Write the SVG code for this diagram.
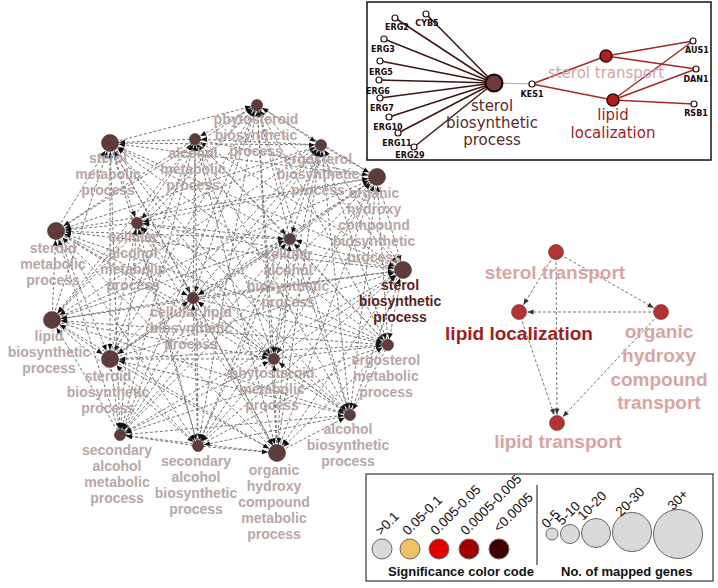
<svg xmlns="http://www.w3.org/2000/svg" width="718" height="588" viewBox="0 0 718 588">
<style>
.e line{stroke:#6f6f6f;stroke-width:0.95;stroke-dasharray:3 2;fill:none}
.s{marker-end:url(#ms)}
.b{marker-end:url(#mb)}
.r{marker-end:url(#mr)}
.n circle{fill:#5f3c3c;stroke:#4a2a2a;stroke-width:0.6}
.n text{font-family:"Liberation Sans",Arial,sans-serif;font-weight:bold;font-size:14px;fill:#b4a0a0;text-anchor:middle;opacity:0.92}
.n text.dk{fill:#5a1e1e;opacity:1}
.rn circle{fill:#b03434;stroke:#8a2222;stroke-width:0.6}
.rn text{font-family:"Liberation Sans",Arial,sans-serif;font-weight:bold;font-size:19px;fill:#d8a4a4;text-anchor:middle}
.rn text.dr{fill:#a11d1d}
.g circle{fill:#fff;stroke:#2a1010;stroke-width:1.2}
.g text{font-family:"DejaVu Sans",Verdana,sans-serif;font-weight:bold;font-size:8px;fill:#1a0a0a;text-anchor:middle}
.il{font-family:"DejaVu Sans",Verdana,sans-serif;font-size:15px;text-anchor:middle}
.lg{font-family:"Liberation Sans",Arial,sans-serif;font-size:13.5px;fill:#111}
.lb{font-family:"Liberation Sans",Arial,sans-serif;font-size:13px;font-weight:bold;fill:#111}
.lc{stroke:#666;stroke-width:1}
</style>
<defs>
<marker id="ms" markerUnits="userSpaceOnUse" markerWidth="7" markerHeight="6" refX="12" refY="2.5" orient="auto" overflow="visible"><path d="M0,0L6,2.5L0,5z" fill="#111"/></marker>
<marker id="mb" markerUnits="userSpaceOnUse" markerWidth="7" markerHeight="6" refX="15" refY="2.5" orient="auto" overflow="visible"><path d="M0,0L6,2.5L0,5z" fill="#111"/></marker>
<marker id="mr" markerUnits="userSpaceOnUse" markerWidth="7" markerHeight="6" refX="14.5" refY="2.5" orient="auto" overflow="visible"><path d="M0,0L6,2.5L0,5z" fill="#333"/></marker>
</defs>
<rect width="718" height="588" fill="#fff"/>

<g id="edges" class="e">
<line x1="257" y1="105" x2="195" y2="139" class="s"/>
<line x1="110" y1="143" x2="257" y2="105" class="s"/>
<line x1="257" y1="105" x2="321" y2="145" class="s"/>
<line x1="377" y1="177" x2="257" y2="105" class="s"/>
<line x1="257" y1="105" x2="403" y2="270" class="b"/>
<line x1="290" y1="239" x2="257" y2="105" class="s"/>
<line x1="257" y1="105" x2="137" y2="223" class="s"/>
<line x1="56" y1="231" x2="257" y2="105" class="s"/>
<line x1="257" y1="105" x2="193" y2="298" class="s"/>
<line x1="52" y1="320" x2="257" y2="105" class="s"/>
<line x1="257" y1="105" x2="110" y2="359" class="b"/>
<line x1="120" y1="435" x2="257" y2="105" class="s"/>
<line x1="257" y1="105" x2="198" y2="446" class="s"/>
<line x1="277" y1="453" x2="257" y2="105" class="s"/>
<line x1="257" y1="105" x2="274" y2="359" class="s"/>
<line x1="388" y1="345" x2="257" y2="105" class="s"/>
<line x1="257" y1="105" x2="350" y2="415" class="s"/>
<line x1="195" y1="139" x2="110" y2="143" class="b"/>
<line x1="321" y1="145" x2="195" y2="139" class="s"/>
<line x1="195" y1="139" x2="377" y2="177" class="b"/>
<line x1="403" y1="270" x2="195" y2="139" class="s"/>
<line x1="195" y1="139" x2="290" y2="239" class="s"/>
<line x1="137" y1="223" x2="195" y2="139" class="s"/>
<line x1="195" y1="139" x2="56" y2="231" class="b"/>
<line x1="193" y1="298" x2="195" y2="139" class="s"/>
<line x1="195" y1="139" x2="52" y2="320" class="b"/>
<line x1="110" y1="359" x2="195" y2="139" class="s"/>
<line x1="195" y1="139" x2="120" y2="435" class="s"/>
<line x1="198" y1="446" x2="195" y2="139" class="s"/>
<line x1="195" y1="139" x2="277" y2="453" class="b"/>
<line x1="274" y1="359" x2="195" y2="139" class="s"/>
<line x1="195" y1="139" x2="388" y2="345" class="s"/>
<line x1="350" y1="415" x2="195" y2="139" class="s"/>
<line x1="110" y1="143" x2="321" y2="145" class="s"/>
<line x1="377" y1="177" x2="110" y2="143" class="b"/>
<line x1="110" y1="143" x2="403" y2="270" class="b"/>
<line x1="290" y1="239" x2="110" y2="143" class="b"/>
<line x1="110" y1="143" x2="137" y2="223" class="s"/>
<line x1="56" y1="231" x2="110" y2="143" class="b"/>
<line x1="110" y1="143" x2="193" y2="298" class="s"/>
<line x1="52" y1="320" x2="110" y2="143" class="b"/>
<line x1="110" y1="143" x2="110" y2="359" class="b"/>
<line x1="120" y1="435" x2="110" y2="143" class="b"/>
<line x1="110" y1="143" x2="198" y2="446" class="s"/>
<line x1="277" y1="453" x2="110" y2="143" class="b"/>
<line x1="110" y1="143" x2="274" y2="359" class="s"/>
<line x1="388" y1="345" x2="110" y2="143" class="b"/>
<line x1="110" y1="143" x2="350" y2="415" class="s"/>
<line x1="321" y1="145" x2="377" y2="177" class="b"/>
<line x1="403" y1="270" x2="321" y2="145" class="s"/>
<line x1="321" y1="145" x2="290" y2="239" class="s"/>
<line x1="137" y1="223" x2="321" y2="145" class="s"/>
<line x1="321" y1="145" x2="56" y2="231" class="b"/>
<line x1="193" y1="298" x2="321" y2="145" class="s"/>
<line x1="321" y1="145" x2="52" y2="320" class="b"/>
<line x1="110" y1="359" x2="321" y2="145" class="s"/>
<line x1="321" y1="145" x2="120" y2="435" class="s"/>
<line x1="198" y1="446" x2="321" y2="145" class="s"/>
<line x1="321" y1="145" x2="277" y2="453" class="b"/>
<line x1="274" y1="359" x2="321" y2="145" class="s"/>
<line x1="321" y1="145" x2="388" y2="345" class="s"/>
<line x1="350" y1="415" x2="321" y2="145" class="s"/>
<line x1="377" y1="177" x2="403" y2="270" class="b"/>
<line x1="290" y1="239" x2="377" y2="177" class="b"/>
<line x1="377" y1="177" x2="137" y2="223" class="s"/>
<line x1="56" y1="231" x2="377" y2="177" class="b"/>
<line x1="377" y1="177" x2="193" y2="298" class="s"/>
<line x1="52" y1="320" x2="377" y2="177" class="b"/>
<line x1="377" y1="177" x2="110" y2="359" class="b"/>
<line x1="120" y1="435" x2="377" y2="177" class="b"/>
<line x1="377" y1="177" x2="198" y2="446" class="s"/>
<line x1="277" y1="453" x2="377" y2="177" class="b"/>
<line x1="377" y1="177" x2="274" y2="359" class="s"/>
<line x1="388" y1="345" x2="377" y2="177" class="b"/>
<line x1="377" y1="177" x2="350" y2="415" class="s"/>
<line x1="403" y1="270" x2="290" y2="239" class="s"/>
<line x1="137" y1="223" x2="403" y2="270" class="b"/>
<line x1="403" y1="270" x2="56" y2="231" class="b"/>
<line x1="193" y1="298" x2="403" y2="270" class="b"/>
<line x1="403" y1="270" x2="52" y2="320" class="b"/>
<line x1="110" y1="359" x2="403" y2="270" class="b"/>
<line x1="403" y1="270" x2="120" y2="435" class="s"/>
<line x1="198" y1="446" x2="403" y2="270" class="b"/>
<line x1="403" y1="270" x2="277" y2="453" class="b"/>
<line x1="274" y1="359" x2="403" y2="270" class="b"/>
<line x1="403" y1="270" x2="388" y2="345" class="s"/>
<line x1="350" y1="415" x2="403" y2="270" class="b"/>
<line x1="290" y1="239" x2="137" y2="223" class="s"/>
<line x1="56" y1="231" x2="290" y2="239" class="s"/>
<line x1="290" y1="239" x2="193" y2="298" class="s"/>
<line x1="52" y1="320" x2="290" y2="239" class="s"/>
<line x1="290" y1="239" x2="110" y2="359" class="b"/>
<line x1="120" y1="435" x2="290" y2="239" class="s"/>
<line x1="290" y1="239" x2="198" y2="446" class="s"/>
<line x1="277" y1="453" x2="290" y2="239" class="s"/>
<line x1="290" y1="239" x2="274" y2="359" class="s"/>
<line x1="388" y1="345" x2="290" y2="239" class="s"/>
<line x1="290" y1="239" x2="350" y2="415" class="s"/>
<line x1="137" y1="223" x2="56" y2="231" class="b"/>
<line x1="193" y1="298" x2="137" y2="223" class="s"/>
<line x1="137" y1="223" x2="52" y2="320" class="b"/>
<line x1="110" y1="359" x2="137" y2="223" class="s"/>
<line x1="137" y1="223" x2="120" y2="435" class="s"/>
<line x1="198" y1="446" x2="137" y2="223" class="s"/>
<line x1="137" y1="223" x2="277" y2="453" class="b"/>
<line x1="274" y1="359" x2="137" y2="223" class="s"/>
<line x1="137" y1="223" x2="388" y2="345" class="s"/>
<line x1="350" y1="415" x2="137" y2="223" class="s"/>
<line x1="56" y1="231" x2="193" y2="298" class="s"/>
<line x1="52" y1="320" x2="56" y2="231" class="b"/>
<line x1="56" y1="231" x2="110" y2="359" class="b"/>
<line x1="120" y1="435" x2="56" y2="231" class="b"/>
<line x1="56" y1="231" x2="198" y2="446" class="s"/>
<line x1="277" y1="453" x2="56" y2="231" class="b"/>
<line x1="56" y1="231" x2="274" y2="359" class="s"/>
<line x1="388" y1="345" x2="56" y2="231" class="b"/>
<line x1="56" y1="231" x2="350" y2="415" class="s"/>
<line x1="193" y1="298" x2="52" y2="320" class="b"/>
<line x1="110" y1="359" x2="193" y2="298" class="s"/>
<line x1="193" y1="298" x2="120" y2="435" class="s"/>
<line x1="198" y1="446" x2="193" y2="298" class="s"/>
<line x1="193" y1="298" x2="277" y2="453" class="b"/>
<line x1="274" y1="359" x2="193" y2="298" class="s"/>
<line x1="193" y1="298" x2="388" y2="345" class="s"/>
<line x1="350" y1="415" x2="193" y2="298" class="s"/>
<line x1="52" y1="320" x2="110" y2="359" class="b"/>
<line x1="120" y1="435" x2="52" y2="320" class="b"/>
<line x1="52" y1="320" x2="198" y2="446" class="s"/>
<line x1="277" y1="453" x2="52" y2="320" class="b"/>
<line x1="52" y1="320" x2="274" y2="359" class="s"/>
<line x1="388" y1="345" x2="52" y2="320" class="b"/>
<line x1="52" y1="320" x2="350" y2="415" class="s"/>
<line x1="110" y1="359" x2="120" y2="435" class="s"/>
<line x1="198" y1="446" x2="110" y2="359" class="b"/>
<line x1="110" y1="359" x2="277" y2="453" class="b"/>
<line x1="274" y1="359" x2="110" y2="359" class="b"/>
<line x1="110" y1="359" x2="388" y2="345" class="s"/>
<line x1="350" y1="415" x2="110" y2="359" class="b"/>
<line x1="198" y1="446" x2="120" y2="435" class="s"/>
<line x1="277" y1="453" x2="120" y2="435" class="s"/>
<line x1="120" y1="435" x2="274" y2="359" class="s"/>
<line x1="388" y1="345" x2="120" y2="435" class="s"/>
<line x1="120" y1="435" x2="350" y2="415" class="s"/>
<line x1="198" y1="446" x2="277" y2="453" class="b"/>
<line x1="274" y1="359" x2="198" y2="446" class="s"/>
<line x1="198" y1="446" x2="388" y2="345" class="s"/>
<line x1="350" y1="415" x2="198" y2="446" class="s"/>
<line x1="277" y1="453" x2="274" y2="359" class="s"/>
<line x1="388" y1="345" x2="277" y2="453" class="b"/>
<line x1="277" y1="453" x2="350" y2="415" class="s"/>
<line x1="274" y1="359" x2="388" y2="345" class="s"/>
<line x1="350" y1="415" x2="274" y2="359" class="s"/>
<line x1="388" y1="345" x2="350" y2="415" class="s"/>
<line x1="556" y1="252" x2="519" y2="312" class="r"/>
<line x1="556" y1="252" x2="661" y2="312" class="r"/>
<line x1="661" y1="312" x2="519" y2="312" class="r"/>
<line x1="556" y1="252" x2="557" y2="423" class="r"/>
<line x1="519" y1="312" x2="557" y2="423" class="r"/>
<line x1="661" y1="312" x2="557" y2="423" class="r"/>
</g>

<g id="n-phytosteroid-biosynthetic" class="n"><circle cx="257" cy="105" r="5.5"/><text><tspan x="256" y="124">phytosteroid</tspan><tspan x="256" y="140">biosynthetic</tspan><tspan x="256" y="156">process</tspan></text></g>
<g id="n-alcohol-metabolic" class="n"><circle cx="195" cy="139" r="5.5"/><text><tspan x="193" y="158">alcohol</tspan><tspan x="193" y="174">metabolic</tspan><tspan x="193" y="190">process</tspan></text></g>
<g id="n-sterol-metabolic" class="n"><circle cx="110" cy="143" r="8.5"/><text><tspan x="108" y="163">sterol</tspan><tspan x="108" y="179">metabolic</tspan><tspan x="108" y="195">process</tspan></text></g>
<g id="n-ergosterol-biosynthetic" class="n"><circle cx="321" cy="145" r="5.5"/><text><tspan x="318" y="164">ergosterol</tspan><tspan x="318" y="179">biosynthetic</tspan><tspan x="318" y="195">process</tspan></text></g>
<g id="n-ohc-biosynthetic" class="n"><circle cx="377" cy="177" r="8.5"/><text><tspan x="374" y="198">organic</tspan><tspan x="374" y="214">hydroxy</tspan><tspan x="374" y="230">compound</tspan><tspan x="374" y="246">biosynthetic</tspan><tspan x="374" y="262">process</tspan></text></g>
<g id="n-sterol-biosynthetic" class="n"><circle cx="403" cy="270" r="8.5"/><text class="dk"><tspan x="400" y="290">sterol</tspan><tspan x="400" y="306">biosynthetic</tspan><tspan x="400" y="322">process</tspan></text></g>
<g id="n-cellular-alcohol-biosynthetic" class="n"><circle cx="290" cy="239" r="5.5"/><text><tspan x="288" y="259">cellular</tspan><tspan x="288" y="275">alcohol</tspan><tspan x="288" y="291">biosynthetic</tspan><tspan x="288" y="307">process</tspan></text></g>
<g id="n-cellular-alcohol-metabolic" class="n"><circle cx="137" cy="223" r="5.5"/><text><tspan x="133" y="242">cellular</tspan><tspan x="133" y="258">alcohol</tspan><tspan x="133" y="274">metabolic</tspan><tspan x="133" y="290">process</tspan></text></g>
<g id="n-steroid-metabolic" class="n"><circle cx="56" cy="231" r="8.5"/><text><tspan x="53" y="253">steroid</tspan><tspan x="53" y="269">metabolic</tspan><tspan x="53" y="285">process</tspan></text></g>
<g id="n-cellular-lipid-biosynthetic" class="n"><circle cx="193" cy="298" r="5.5"/><text><tspan x="191" y="317">cellular lipid</tspan><tspan x="191" y="333">biosynthetic</tspan><tspan x="191" y="349">process</tspan></text></g>
<g id="n-lipid-biosynthetic" class="n"><circle cx="52" cy="320" r="8.5"/><text><tspan x="49" y="341">lipid</tspan><tspan x="49" y="357">biosynthetic</tspan><tspan x="49" y="373">process</tspan></text></g>
<g id="n-steroid-biosynthetic" class="n"><circle cx="110" cy="359" r="8.5"/><text><tspan x="108" y="381">steroid</tspan><tspan x="108" y="397">biosynthetic</tspan><tspan x="108" y="413">process</tspan></text></g>
<g id="n-secondary-alcohol-metabolic" class="n"><circle cx="120" cy="435" r="5.5"/><text><tspan x="117" y="455">secondary</tspan><tspan x="117" y="471">alcohol</tspan><tspan x="117" y="487">metabolic</tspan><tspan x="117" y="503">process</tspan></text></g>
<g id="n-secondary-alcohol-biosynthetic" class="n"><circle cx="198" cy="446" r="5.5"/><text><tspan x="196" y="466">secondary</tspan><tspan x="196" y="482">alcohol</tspan><tspan x="196" y="498">biosynthetic</tspan><tspan x="196" y="514">process</tspan></text></g>
<g id="n-ohc-metabolic" class="n"><circle cx="277" cy="453" r="8.5"/><text><tspan x="274" y="475">organic</tspan><tspan x="274" y="491">hydroxy</tspan><tspan x="274" y="507">compound</tspan><tspan x="274" y="523">metabolic</tspan><tspan x="274" y="539">process</tspan></text></g>
<g id="n-phytosteroid-metabolic" class="n"><circle cx="274" cy="359" r="5.5"/><text><tspan x="272" y="378">phytosteroid</tspan><tspan x="272" y="394">metabolic</tspan><tspan x="272" y="410">process</tspan></text></g>
<g id="n-ergosterol-metabolic" class="n"><circle cx="388" cy="345" r="5.5"/><text><tspan x="386" y="365">ergosterol</tspan><tspan x="386" y="381">metabolic</tspan><tspan x="386" y="397">process</tspan></text></g>
<g id="n-alcohol-biosynthetic" class="n"><circle cx="350" cy="415" r="5.5"/><text><tspan x="348" y="434">alcohol</tspan><tspan x="348" y="450">biosynthetic</tspan><tspan x="348" y="466">process</tspan></text></g>

<g id="n-sterol-transport" class="rn"><circle cx="556" cy="252" r="7.5"/><text x="555" y="279">sterol transport</text></g>
<g id="n-lipid-localization" class="rn"><circle cx="519" cy="312" r="7.5"/><text class="dr" x="519" y="340">lipid localization</text></g>
<g id="n-ohc-transport" class="rn"><circle cx="661" cy="312" r="7.5"/><text><tspan x="659" y="338">organic</tspan><tspan x="659" y="362">hydroxy</tspan><tspan x="659" y="386">compound</tspan><tspan x="659" y="409">transport</tspan></text></g>
<g id="n-lipid-transport" class="rn"><circle cx="557" cy="423" r="7.5"/><text x="558" y="448">lipid transport</text></g>

<g id="inset">
<rect x="367" y="2" width="344" height="158" fill="#fff" stroke="#111" stroke-width="1.5"/>
<g id="inset-edges" fill="none">
<g stroke="#3a1616" stroke-width="1.5">
<line x1="494" y1="83" x2="426" y2="14"/>
<line x1="494" y1="83" x2="395" y2="18"/>
<line x1="494" y1="83" x2="384" y2="39"/>
<line x1="494" y1="83" x2="380" y2="61"/>
<line x1="494" y1="83" x2="379" y2="80"/>
<line x1="494" y1="83" x2="380" y2="98"/>
<line x1="494" y1="83" x2="389" y2="117"/>
<line x1="494" y1="83" x2="398" y2="133"/>
<line x1="494" y1="83" x2="414" y2="147"/>
</g>
<line x1="494" y1="83" x2="532" y2="84" stroke="#aaa" stroke-width="1"/>
<g stroke="#a52828" stroke-width="1.5">
<line x1="532" y1="84" x2="606" y2="56"/>
<line x1="532" y1="84" x2="613" y2="100"/>
<line x1="606" y1="56" x2="693" y2="41"/>
<line x1="606" y1="56" x2="696" y2="69"/>
<line x1="613" y1="100" x2="693" y2="41"/>
<line x1="613" y1="100" x2="696" y2="69"/>
<line x1="613" y1="100" x2="694" y2="104"/>
</g>
</g>
<text class="il" x="606" y="78" fill="#d4a4a4">sterol transport</text>
<g id="i-sterol-biosynthetic"><circle cx="494" cy="83" r="8.5" fill="#6b3d3d" stroke="#1a0505" stroke-width="2"/><text class="il" fill="#5a2a2a"><tspan x="492" y="111">sterol</tspan><tspan x="492" y="128">biosynthetic</tspan><tspan x="492" y="145">process</tspan></text></g>
<g id="i-sterol-transport"><circle cx="606" cy="56" r="6" fill="#b02020" stroke="#3a0808" stroke-width="1.5"/></g>
<g id="i-lipid-localization"><circle cx="613" cy="100" r="6" fill="#b02020" stroke="#3a0808" stroke-width="1.5"/><text class="il" fill="#a01e1e"><tspan x="613" y="120">lipid</tspan><tspan x="613" y="138">localization</tspan></text></g>
<g id="i-genes" class="g">
<g id="g-CYB5"><circle cx="426" cy="14" r="3"/><text x="427" y="26">CYB5</text></g>
<g id="g-ERG2"><circle cx="395" cy="18" r="3"/><text x="397" y="30">ERG2</text></g>
<g id="g-ERG3"><circle cx="384" cy="39" r="3"/><text x="383" y="52">ERG3</text></g>
<g id="g-ERG5"><circle cx="380" cy="61" r="3"/><text x="381" y="75">ERG5</text></g>
<g id="g-ERG6"><circle cx="379" cy="80" r="3"/><text x="378" y="94">ERG6</text></g>
<g id="g-ERG7"><circle cx="380" cy="98" r="3"/><text x="382" y="111">ERG7</text></g>
<g id="g-ERG10"><circle cx="389" cy="117" r="3"/><text x="388" y="130">ERG10</text></g>
<g id="g-ERG11"><circle cx="398" cy="133" r="3"/><text x="397" y="146">ERG11</text></g>
<g id="g-ERG29"><circle cx="414" cy="147" r="3"/><text x="410" y="158">ERG29</text></g>
<g id="g-KES1"><circle cx="532" cy="84" r="3"/><text x="532" y="97">KES1</text></g>
<g id="g-AUS1"><circle cx="693" cy="41" r="3"/><text x="697" y="53">AUS1</text></g>
<g id="g-DAN1"><circle cx="696" cy="69" r="3"/><text x="696" y="82">DAN1</text></g>
<g id="g-RSB1"><circle cx="694" cy="104" r="3"/><text x="696" y="116">RSB1</text></g>
</g>
</g>

<g id="legend">
<rect x="366" y="474" width="347" height="107" fill="#fff" stroke="#333" stroke-width="1.2"/>
<circle class="lc" cx="382" cy="549" r="10" fill="#d9d9d9"/>
<circle class="lc" cx="410" cy="549" r="10" fill="#f0c266"/>
<circle class="lc" cx="439" cy="549" r="10" fill="#e00000"/>
<circle class="lc" cx="469" cy="549" r="10" fill="#a00000"/>
<circle class="lc" cx="499" cy="549" r="10" fill="#400000"/>
<text class="lg" transform="translate(381,536) rotate(-45)">&gt;0.1</text>
<text class="lg" transform="translate(408,536) rotate(-45)">0.05-0.1</text>
<text class="lg" transform="translate(436,536) rotate(-45)">0.005-0.05</text>
<text class="lg" transform="translate(466,536) rotate(-45)">0.0005-0.005</text>
<text class="lg" transform="translate(499,533) rotate(-45)">&lt;0.0005</text>
<text class="lb" x="388" y="576">Significance color code</text>
<line x1="537" y1="485" x2="537" y2="565" stroke="#111" stroke-width="1"/>
<circle class="lc" cx="552" cy="534" r="6" fill="#d9d9d9"/>
<circle class="lc" cx="570" cy="534" r="9.5" fill="#d9d9d9"/>
<circle class="lc" cx="596" cy="533" r="14.5" fill="#d9d9d9"/>
<circle class="lc" cx="632" cy="532" r="19.5" fill="#d9d9d9"/>
<circle class="lc" cx="678" cy="534" r="24.5" fill="#d9d9d9"/>
<text class="lg" transform="translate(547,529) rotate(-45)">0-5</text>
<text class="lg" transform="translate(562,526) rotate(-45)">5-10</text>
<text class="lg" transform="translate(583,521) rotate(-45)">10-20</text>
<text class="lg" transform="translate(621,517) rotate(-45)">20-30</text>
<text class="lg" transform="translate(673,511) rotate(-45)">30+</text>
<text class="lb" x="561" y="576">No. of mapped genes</text>
</g>
</svg>
